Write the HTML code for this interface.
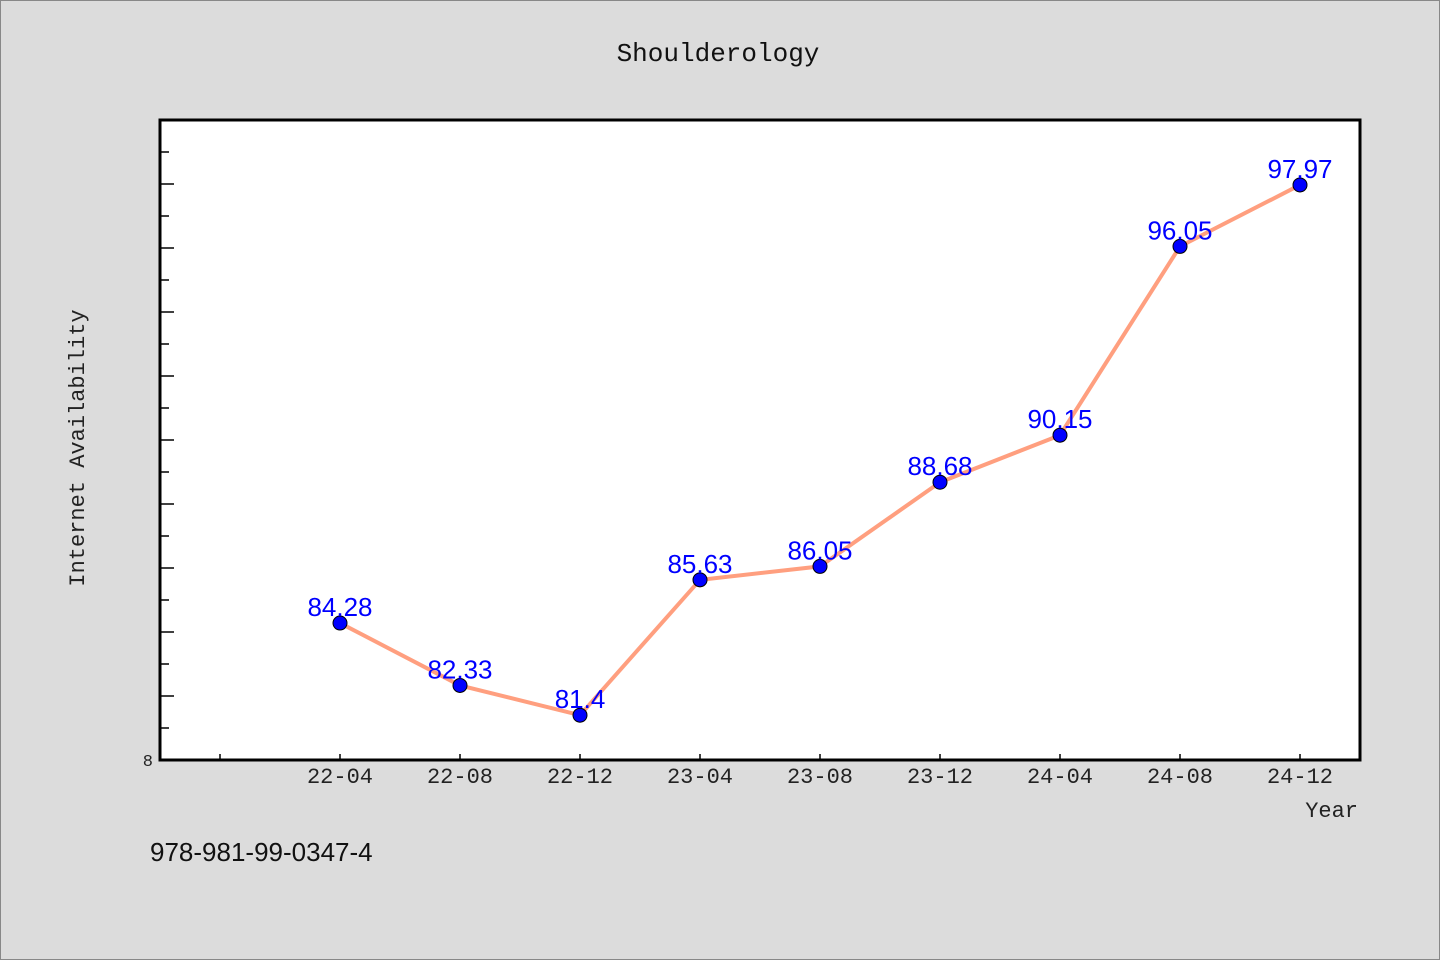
<!DOCTYPE html>
<html><head><meta charset="utf-8"><style>
body{margin:0;background:#dcdcdc;}
svg{display:block;font-family:"Liberation Mono","Noto Sans CJK SC",monospace;}
</style></head><body>
<svg width="1440" height="960">
<rect x="0.5" y="0.5" width="1439" height="959" fill="#dcdcdc" stroke="#888"/>
<text x="718" y="61" font-size="26" text-anchor="middle" fill="#111">Shoulderology</text>
<rect x="160" y="120" width="1200" height="640" fill="#fff" stroke="#000" stroke-width="3"/>
<g id="yticks"></g><g id="xticks"></g>
<text x="153" y="766" font-size="17" text-anchor="end" fill="#222">8</text>
<text transform="translate(84,448) rotate(-90)" font-size="22" text-anchor="middle" fill="#222">Internet Availability</text>
<text x="1358" y="817" font-size="22" text-anchor="end" fill="#222">Year</text>
<text x="150" y="861" font-size="26" fill="#111" font-family="Liberation Sans, sans-serif">978-981-99-0347-4</text>
<g id="series"></g>
</svg>
<script>
const categories=["22-04","22-08","22-12","23-04","23-08","23-12","24-04","24-08","24-12"];
const values=[84.28,82.33,81.4,85.63,86.05,88.68,90.15,96.05,97.97];
const labels=["84.28","82.33","81.4","85.63","86.05","88.68","90.15","96.05","97.97"];
const yMin=80,yMax=100;
const ns="http://www.w3.org/2000/svg";
function xs(i){return 340+i*120;}
function ys(v){return 760-(v-yMin)/(yMax-yMin)*640;}
function mk(t,a,p){const e=document.createElementNS(ns,t);for(const k in a)e.setAttribute(k,a[k]);p.appendChild(e);return e;}
const yt=document.getElementById('yticks');
for(let v=yMin+1;v<yMax;v++){
 const l=mk('line',{x1:161,x2:(v%2==0)?174:169,y1:ys(v),y2:ys(v),stroke:'#000','stroke-width':1.5},yt);
 
 
}
const xt=document.getElementById('xticks');
for(let i=-1;i<categories.length;i++){
 const l=mk('line',{x1:xs(i),x2:xs(i),y1:760,y2:754,stroke:'#000','stroke-width':1.5},xt);
 
 
 if(i>=0){const t=mk('text',{x:xs(i),y:783,'font-size':22,'text-anchor':'middle',fill:'#222'},xt);t.textContent=categories[i];
 
 }
}
const s=document.getElementById('series');
const pl=mk('polyline',{points:values.map((v,i)=>xs(i)+','+ys(v)).join(' '),fill:'none',stroke:'#ff9f7f','stroke-width':4},s);


values.forEach((v,i)=>{
 const c=mk('circle',{cx:xs(i),cy:ys(v),r:7,fill:'#0000ff',stroke:'#000','stroke-width':1},s);
 
 
});
values.forEach((v,i)=>{
 const t=mk('text',{x:xs(i),y:ys(v)-7,'font-size':26,'text-anchor':'middle',fill:'#0000ff','font-family':'Liberation Sans, sans-serif'},s);
 t.textContent=labels[i];
 
 
});
</script>
</body></html>
